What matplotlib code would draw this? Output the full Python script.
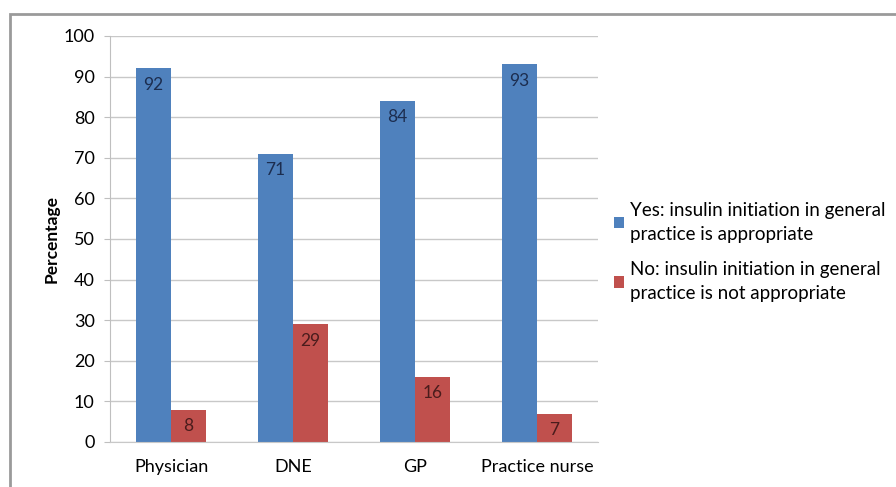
import numpy as np
import matplotlib.pyplot as plt
from matplotlib.patches import Rectangle

categories = ["Physician", "DNE", "GP", "Practice nurse"]
yes_vals = [92, 71, 84, 93]
no_vals = [8, 29, 16, 7]
yes_label = "Yes: insulin initiation in general\npractice is appropriate"
no_label = "No: insulin initiation in general\npractice is not appropriate"

plt.rcParams['font.family'] = ['Lato', 'DejaVu Sans']

fig = plt.figure(figsize=(8.96, 4.87), dpi=100)
fig.patches.append(Rectangle((10 / 896, -0.1), 1.2, 1 - 14 / 487 + 0.1, transform=fig.transFigure,
                             fill=False, edgecolor="#9a9a9a", linewidth=2))
ax = fig.add_axes([110 / 896, 1 - 442 / 487, 488 / 896, 406 / 487])

x = np.arange(len(categories))
w = 0.285
b1 = ax.bar(x - w / 2, yes_vals, w, color="#4F81BD", label=yes_label)
b2 = ax.bar(x + w / 2, no_vals, w, color="#C0504D", label=no_label)

for bars, col in ((b1, "#1c2d4f"), (b2, "#4a1c1c")):
    for r in bars:
        h = r.get_height()
        ax.text(r.get_x() + r.get_width() / 2, h - 4, f"{h:g}", ha="center", va="center",
                fontsize=12.5, color=col)

ax.set_xlim(-0.5, len(categories) - 0.5)
ax.set_ylim(0, 100)
ax.set_yticks(range(0, 101, 10))
ax.set_xticks(x)
ax.set_xticklabels(categories, fontsize=13)
ax.tick_params(axis="y", labelsize=13, length=4, color="#bfbfbf", pad=7)
ax.tick_params(axis="x", length=0, pad=12)
ax.grid(axis="y", color="#c8c8c8", linewidth=1)
ax.set_axisbelow(True)
for s in ["top", "right"]:
    ax.spines[s].set_visible(False)
ax.spines["left"].set_color("#bfbfbf")
ax.spines["bottom"].set_color("#c8c8c8")
ax.set_ylabel("Percentage", fontsize=12.5, fontweight="bold", labelpad=3)

leg = fig.legend(handles=[b1, b2], loc="center left", bbox_to_anchor=(597 / 896, 1 - 252 / 487),
                 frameon=False, fontsize=13.5, handlelength=0.55, handleheight=0.55,
                 handletextpad=0.3, labelspacing=1.0)
for t in leg.get_texts():
    t.set_linespacing(1.45)

fig.savefig("out.png", dpi=100)
